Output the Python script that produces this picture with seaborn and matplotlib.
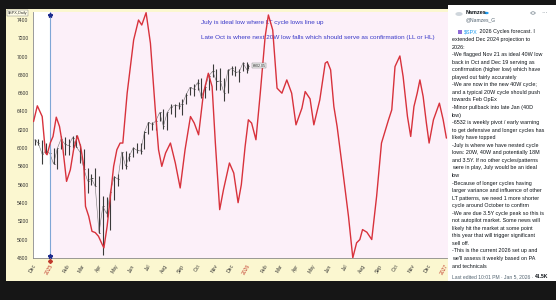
import numpy as np
import pandas as pd
import matplotlib
matplotlib.use("Agg")
import matplotlib.pyplot as plt
import matplotlib.transforms as mtransforms
from matplotlib.patches import Rectangle, Circle
import seaborn as sns

# ---------------- data ----------------
# projected cycle composite: days after 2025-01-01 and value
cycle_day = [-30, -23, -14, -8, -5, 1, 6, 12, 18, 23, 31, 38, 44, 51, 57, 63, 66, 72, 78, 84,
             90, 97, 100, 106, 112, 118, 124, 130, 135, 143, 155, 164, 170, 178, 186, 195, 201, 207, 214, 223,
             232, 241, 250, 260, 267, 275, 284, 293, 300, 306, 314, 321, 332, 340, 348, 354, 361, 367, 373, 381,
             389, 398, 404, 412, 420, 429, 438, 447, 455, 466, 472, 481, 488, 499, 509, 513, 519, 525, 531, 542,
             552, 560, 567, 573, 578, 586, 595, 604, 613, 626, 632, 638, 647, 653, 661, 667, 673, 679, 684, 690,
             696, 701, 709, 720, 727, 733]
cycle_value = [6290, 6462, 6345, 5949, 5927, 6058, 6127, 6338, 6236, 6058, 5636, 5763, 5982, 6134, 6018, 5800, 5363, 5254, 5090, 5076,
               5036, 4945, 4909, 5145, 5472, 5800, 5982, 6055, 6055, 6600, 7182, 7400, 7345, 7480, 7146, 6418, 5982, 5800, 5946, 6055,
               5837, 5564, 5982, 6345, 6273, 6145, 6600, 6818, 6672, 6055, 5327, 5545, 5837, 5727, 5403, 5600, 6018, 6309, 6273, 6091,
               6600, 7218, 7455, 7291, 6655, 6600, 6745, 6600, 6254, 6437, 6618, 6538, 6254, 6527, 6928, 6945, 6855, 6454, 6236, 5727,
               5254, 4800, 4964, 5000, 5109, 5080, 5000, 5472, 6055, 6309, 6418, 6891, 7007, 6781, 6345, 6127, 6454, 6600, 6745, 6563,
               6273, 6055, 6309, 6491, 6309, 6109]

# SPX price bars (weekly)
price_week = ["2024-12-06", "2024-12-13", "2024-12-20", "2024-12-27", "2025-01-03", "2025-01-10", "2025-01-17",
              "2025-01-24", "2025-01-31", "2025-02-07", "2025-02-14", "2025-02-21", "2025-02-28", "2025-03-07",
              "2025-03-14", "2025-03-21", "2025-03-28", "2025-04-04", "2025-04-11", "2025-04-18", "2025-04-25",
              "2025-05-02", "2025-05-09", "2025-05-16", "2025-05-23", "2025-05-30", "2025-06-06", "2025-06-13",
              "2025-06-20", "2025-06-27", "2025-07-04", "2025-07-11", "2025-07-18", "2025-07-25", "2025-08-01",
              "2025-08-08", "2025-08-15", "2025-08-22", "2025-08-29", "2025-09-05", "2025-09-12", "2025-09-19",
              "2025-09-26", "2025-10-03", "2025-10-10", "2025-10-17", "2025-10-24", "2025-10-31", "2025-11-07",
              "2025-11-14", "2025-11-21", "2025-11-28", "2025-12-05", "2025-12-12", "2025-12-19", "2025-12-26",
              "2026-01-02", "2026-01-05"]
price_high = [6099, 6100, 6085, 6050, 5985, 6000, 6000, 6128, 6120, 6100, 6128, 6147, 6045, 5986, 5782, 5715,
              5787, 5695, 5481, 5460, 5528, 5700, 5720, 5960, 5970, 5944, 6016, 6060, 6060, 6187, 6285, 6290,
              6315, 6395, 6428, 6395, 6480, 6480, 6508, 6533, 6600, 6670, 6700, 6760, 6765, 6700, 6800, 6920,
              6860, 6870, 6770, 6860, 6895, 6900, 6860, 6945, 6940, 6915]
price_low = [6030, 6030, 5830, 5930, 5830, 5825, 5775, 5990, 5920, 5925, 6000, 6010, 5837, 5666, 5505, 5600,
             5580, 5069, 4835, 5250, 5101, 5433, 5590, 5770, 5767, 5860, 5900, 5950, 5940, 5990, 6150, 6200,
             6200, 6300, 6212, 6200, 6370, 6343, 6430, 6360, 6480, 6580, 6570, 6630, 6550, 6550, 6640, 6780,
             6630, 6630, 6520, 6600, 6800, 6790, 6720, 6840, 6820, 6860]
price_close = [6090, 6051, 5931, 5971, 5942, 5827, 5997, 6101, 6041, 6026, 6115, 6013, 5955, 5770, 5639, 5668,
               5581, 5074, 5363, 5283, 5525, 5687, 5660, 5958, 5803, 5912, 6000, 5977, 5967, 6173, 6280, 6260,
               6297, 6389, 6238, 6389, 6450, 6467, 6460, 6482, 6584, 6664, 6644, 6716, 6553, 6664, 6791, 6840,
               6728, 6734, 6603, 6849, 6870, 6827, 6834, 6930, 6858, 6902]
last_price_label = "6902.05"

month_labels = ["Dec", "2025", "Feb", "Mar", "Apr", "May", "Jun", "Jul", "Aug", "Sep", "Oct", "Nov", "Dec",
                "2026", "Feb", "Mar", "Apr", "May", "Jun", "Jul", "Aug", "Sep", "Oct", "Nov", "Dec", "2027"]
y_ticks = [7400, 7200, 7000, 6800, 6600, 6400, 6200, 6000, 5800, 5600, 5400, 5200, 5000, 4800]

note_lines = ["July is ideal low where LT cycle lows line up",
              "Late Oct is where next 20W low falls which should serve as confirmation (LL or HL)"]

tweet_name = "Namzes"
tweet_handle = "@Namzes_G"
tweet_first_link = "$SPX"
tweet_first_rest = " 2026 Cycles forecast. I"
tweet_lines = [
    "extended Dec 2024 projection to",
    "2026:",
    "-We flagged Nov 21 as ideal 40W low",
    "back in Oct and Dec 19 serving as",
    "confirmation (higher low) which have",
    "played out fairly accurately",
    "-We are now in the new 40W cycle;",
    "and a typical 20W cycle should push",
    "towards Feb OpEx",
    "-Minor pullback into late Jan (40D",
    "low)",
    "-6532 is weekly pivot / early warning",
    "to get defensive and longer cycles has",
    "likely have topped",
    "-July is where we have nested cycle",
    "lows: 20W, 40W and potentially 18M",
    "and 3.5Y. If no other cycles/patterns",
    "were in play, July would be an ideal",
    "low",
    "-Because of longer cycles having",
    "larger variance and influence of other",
    "LT patterns, we need 1 more shorter",
    "cycle around October to confirm",
    "-We are due 3.5Y cycle peak so this is",
    "not autopilot market. Some news will",
    "likely hit the market at some point",
    "this year that will trigger significant",
    "sell off.",
    "-This is the current 2026 set up and",
    "we'll assess it weekly based on PA",
    "and technicals",
]
tweet_footer = "Last edited 10:01 PM \u00b7 Jan 5, 2026 \u00b7 "
tweet_views = "41.5K"

# ---------------- styling ----------------
sns.set_theme(style="white")
plt.rcParams["font.family"] = ["Liberation Sans", "DejaVu Sans"]

W, H = 556, 300
fig = plt.figure(figsize=(W / 100, H / 100), dpi=100)
fig.patch.set_facecolor("#161616")


def fx(px):
    return px / W


def fy(py):
    return 1 - py / H


# chart frame (yellow) and tweet panel (white)
fig.add_artist(Rectangle((fx(6), fy(281)), fx(442), 272 / H, transform=fig.transFigure,
                         facecolor="#fbf7d0", edgecolor="none", zorder=0))
fig.add_artist(Rectangle((fx(448), fy(281)), fx(108), 276 / H, transform=fig.transFigure,
                         facecolor="white", edgecolor="none", zorder=0))

ax = fig.add_axes([fx(33), fy(258.3), 414.5 / W, 246.8 / H])
ax.set_facecolor("#fcf0f9")

base = pd.Timestamp("2025-01-01")
cycle_df = pd.DataFrame({"date": base + pd.to_timedelta(cycle_day, unit="D"), "value": cycle_value})
price_df = pd.DataFrame({"date": pd.to_datetime(price_week), "high": price_high,
                         "low": price_low, "close": price_close})

x0 = pd.Timestamp("2024-12-01")
x1 = pd.Timestamp("2027-01-06")

# white pre-projection area
ax.axvspan(x0, base, color="white", zorder=0.5, lw=0)

# price bars
bar_x = price_df["date"] - pd.Timedelta(days=2)
ax.vlines(bar_x, price_df["low"], price_df["high"], color="#3a3a3a", lw=0.8, zorder=3)
ax.hlines(price_df["close"], bar_x, bar_x + pd.Timedelta(days=2), color="#3a3a3a", lw=0.6, zorder=3)
sns.lineplot(data=price_df.assign(date=bar_x), x="date", y="close", ax=ax, color="#555555",
             lw=0.4, zorder=3, alpha=0.8)

# cycle projection line
sns.lineplot(data=cycle_df, x="date", y="value", ax=ax, color="#d8323c", lw=1.0, zorder=4)

ax.set_xlim(x0, x1)
ax.set_ylim(4795, 7493)
ax.set_xlabel("")
ax.set_ylabel("")

# vertical marker line at projection start
ax.axvline(base, color="#7fa6d6", lw=0.8, zorder=3)
trans = mtransforms.blended_transform_factory(ax.transData, ax.transAxes)
ax.plot([base], [0.987], marker="*", color="#1c2a8c", ms=3.2, transform=trans, clip_on=False, zorder=6)
ax.plot([base], [0.009], marker="*", color="#1c2a8c", ms=3.2, transform=trans, clip_on=False, zorder=6)
ax.plot([base], [-0.012], marker="D", color="#c0392b", ms=2.0, transform=trans, clip_on=False, zorder=6)

# ticks
xt = pd.date_range("2024-12-01", "2027-01-01", freq="MS")
ax.set_xticks(xt)
ax.set_xticklabels(month_labels, rotation=60, ha="right", va="top", rotation_mode="anchor")
ax.set_yticks(y_ticks)
ax.set_yticklabels([str(v) for v in y_ticks])
ax.tick_params(axis="both", length=2.2, width=0.5, color="#777777", labelsize=3.6,
               labelcolor="#333333", pad=1, direction="out")
ax.tick_params(axis="x", pad=1.5)
for lab, txt in zip(ax.get_xticklabels(), month_labels):
    lab.set_color("#c0392b" if txt.isdigit() else "#333333")
for s in ["top", "right"]:
    ax.spines[s].set_visible(False)
for s in ["left", "bottom"]:
    ax.spines[s].set_color("#8a8a8a")
    ax.spines[s].set_linewidth(0.6)

# chart notes
ax.text(0.4046, 0.9546, note_lines[0], transform=ax.transAxes, fontsize=4.55, color="#3a3ac8",
        va="center", ha="left")
ax.text(0.4046, 0.8955, note_lines[1], transform=ax.transAxes, fontsize=4.55, color="#3a3ac8",
        va="center", ha="left")

# last price label
ax.annotate(last_price_label, xy=(price_df["date"].iloc[-1], price_df["close"].iloc[-1]),
            xytext=(2.5, 0), textcoords="offset points", fontsize=2.6, va="center", ha="left",
            color="#222222", zorder=6,
            bbox=dict(boxstyle="square,pad=0.15", fc="#eeeeee", ec="#777777", lw=0.3))

# symbol box at top-left
fig.text(fx(8), fy(13), "$SPX,Daily", fontsize=2.8, color="#333333", va="center", ha="left",
         bbox=dict(boxstyle="square,pad=0.2", fc="#fffde8", ec="#777777", lw=0.3))

# ---------------- tweet panel ----------------
fig.add_artist(Circle((fx(459), fy(14)), 3.6 / W, transform=fig.transFigure,
                      facecolor="#cfd6dc", edgecolor="none"))
fig.text(fx(466), fy(13), tweet_name, fontsize=4.0, fontweight="bold", color="#0f1419",
         va="center", ha="left")
fig.add_artist(Circle((fx(486.5), fy(13)), 2.2 / W, transform=fig.transFigure,
                      facecolor="#1d9bf0", edgecolor="none"))
fig.text(fx(466), fy(19.5), tweet_handle, fontsize=3.6, color="#536471", va="center", ha="left")
fig.text(fx(541), fy(12.5), "\u00b7\u00b7\u00b7", fontsize=4.5, color="#536471", va="center", ha="left")
fig.add_artist(Circle((fx(533), fy(13)), 2.2 / W, transform=fig.transFigure,
                      facecolor="none", edgecolor="#536471", lw=0.4))

fs = 3.9
fig.add_artist(Rectangle((fx(458), fy(34)), 4 / W, 4 / H, transform=fig.transFigure,
                         facecolor="#8e6bd6", edgecolor="none"))
link_txt = fig.text(fx(464), fy(32), tweet_first_link, fontsize=fs, color="#1d9bf0",
                    va="center", ha="left")
plt.annotate(tweet_first_rest, xy=(1.0, 0.5), xycoords=link_txt, fontsize=fs, color="#0f1419",
             va="center", ha="left", annotation_clip=False)
for i, line in enumerate(tweet_lines):
    fig.text(fx(452), fy(32 + 7.55 * (i + 1)), line, fontsize=fs, color="#0f1419",
             va="center", ha="left")
foot = fig.text(fx(452), fy(277), tweet_footer, fontsize=3.6, color="#536471", va="center", ha="left")
plt.annotate(tweet_views, xy=(1.0, 0.5), xycoords=foot, fontsize=3.6, color="#0f1419",
             fontweight="bold", va="center", ha="left", annotation_clip=False)

fig.savefig("out.png", dpi=100, facecolor=fig.get_facecolor())
